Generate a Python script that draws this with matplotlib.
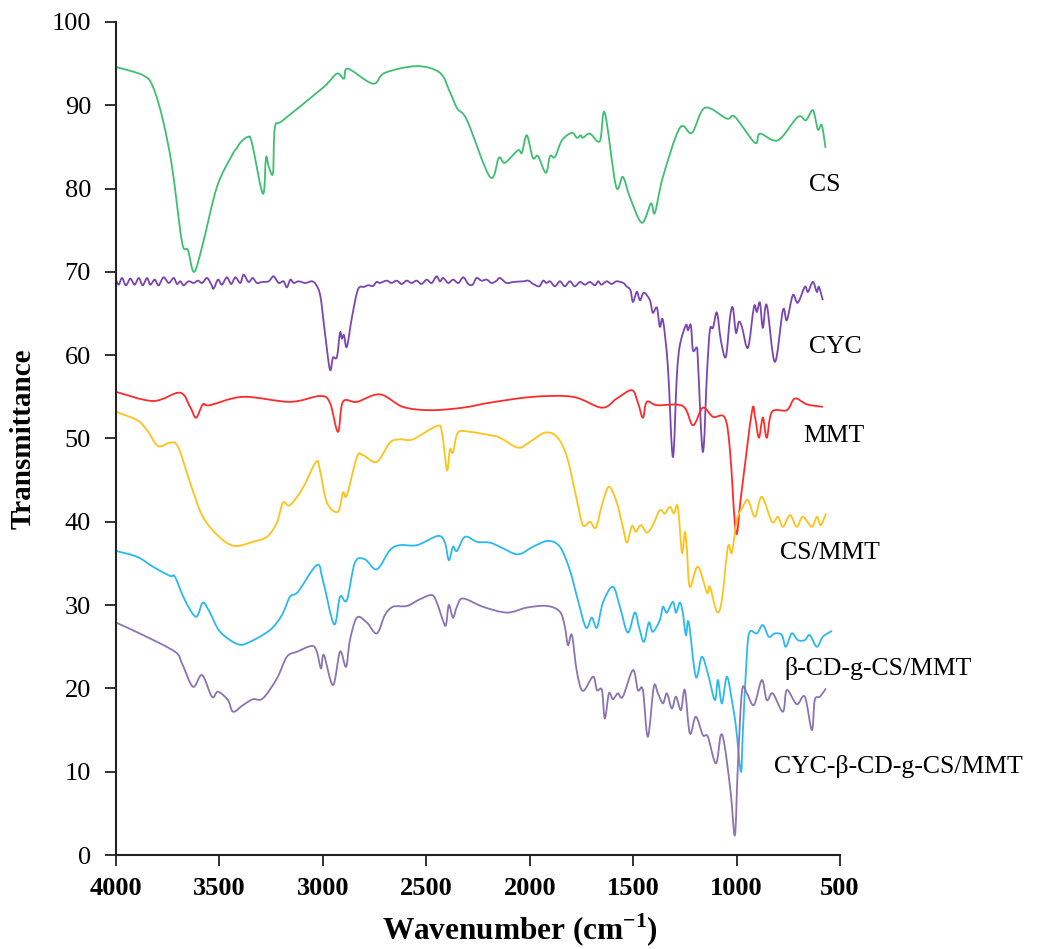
import numpy as np
import matplotlib
matplotlib.use("Agg")
import matplotlib.pyplot as plt
from matplotlib.path import Path
from matplotlib.patches import PathPatch

plt.rcParams['font.family'] = ['Liberation Serif', 'DejaVu Serif']
plt.rcParams['mathtext.fontset'] = 'custom'
plt.rcParams['mathtext.rm'] = 'Liberation Serif'
plt.rcParams['mathtext.bf'] = 'Liberation Serif:bold'

# ---- 数据 ----
cs_wn = [4000, 3869, 3821, 3773, 3729, 3681, 3652, 3623, 3584, 3512, 3439, 3415, 3396, 3362, 3343,
         3290, 3275, 3261, 3241, 3232, 3193, 3000, 2932, 2898, 2879, 2758, 2700, 2545, 2434, 2386,
         2350, 2303, 2192, 2149, 2120, 2057, 2038, 2014, 1985, 1960, 1922, 1902, 1878, 1844, 1796,
         1772, 1753, 1743, 1709, 1661, 1637, 1583, 1550, 1516, 1458, 1414, 1395, 1356, 1274, 1216,
         1153, 1047, 1008, 911, 887, 800, 704, 665, 631, 607, 588, 570]
cs_t = [94.6, 93.6, 92.2, 88.2, 82.6, 73.6, 72.6, 70.0, 73.0, 80.2, 84.0, 84.9, 85.6, 86.2, 85.5,
        79.4, 83.7, 82.6, 81.9, 87.3, 88.2, 92.1, 93.8, 93.2, 94.4, 92.6, 93.9, 94.7, 93.9, 91.6,
        89.6, 88.2, 81.4, 83.7, 83.1, 84.6, 84.3, 86.4, 83.7, 83.9, 81.9, 83.9, 83.8, 85.8, 86.7,
        86.1, 86.4, 86.1, 86.6, 85.7, 89.1, 80.3, 81.4, 79.0, 75.9, 78.2, 77.1, 81.4, 87.3, 86.7,
        89.7, 88.4, 88.6, 85.5, 86.6, 85.8, 88.6, 88.2, 89.4, 87.1, 87.6, 84.9]

cyc_wn = [4000, 3987, 3971, 3952, 3931, 3910, 3890, 3871, 3850, 3834, 3813, 3794, 3770, 3745, 3721,
          3705, 3689, 3673, 3649, 3625, 3604, 3584, 3560, 3539, 3528, 3507, 3488, 3464, 3443, 3423,
          3399, 3383, 3359, 3339, 3319, 3294, 3262, 3238, 3214, 3190, 3174, 3157, 3141, 3117, 3085,
          3053, 3033, 3012, 2990, 2966, 2951, 2932, 2917, 2908, 2898, 2884, 2859, 2830, 2800, 2780,
          2758, 2740, 2724, 2692, 2668, 2643, 2619, 2595, 2571, 2547, 2523, 2498, 2474, 2450, 2434,
          2418, 2394, 2370, 2345, 2321, 2297, 2276, 2257, 2233, 2208, 2184, 2160, 2144, 2112, 2080,
          2031, 2007, 1983, 1954, 1935, 1919, 1902, 1878, 1854, 1830, 1806, 1782, 1757, 1733, 1709,
          1685, 1669, 1653, 1628, 1604, 1580, 1548, 1532, 1513, 1501, 1482, 1467, 1448, 1419, 1405,
          1385, 1371, 1356, 1332, 1308, 1289, 1274, 1245, 1235, 1221, 1211, 1192, 1187, 1163, 1143,
          1129, 1114, 1095, 1076, 1052, 1032, 1018, 1003, 989, 974, 945, 916, 902, 887, 873,
          854, 815, 776, 757, 728, 704, 670, 655, 631, 612, 602, 583]
cyc_t = [69.07, 68.47, 69.27, 68.39, 69.19, 68.47, 69.27, 68.39, 69.27, 68.47, 69.07, 68.39, 69.35, 68.67, 69.27,
         68.55, 68.87, 68.39, 68.87, 68.67, 68.95, 68.67, 69.27, 68.47, 67.99, 69.07, 68.47, 69.35, 68.55, 69.35,
         68.67, 69.66, 68.79, 69.27, 68.67, 68.79, 68.87, 69.47, 68.67, 68.87, 68.15, 69.07, 68.67, 68.87, 68.67,
         68.87, 68.47, 67.07, 62.7, 58.3, 59.7, 59.8, 62.7, 62.0, 62.4, 61.0, 64.6, 67.9, 68.2, 68.4,
         68.3, 68.8, 68.67, 68.95, 68.67, 68.95, 68.55, 68.95, 68.67, 68.95, 68.55, 69.07, 68.67, 69.47, 68.87,
         69.27, 68.67, 69.07, 68.67, 69.35, 68.55, 68.47, 69.27, 68.95, 69.07, 68.67, 68.95, 69.27, 68.67, 68.79,
         68.87, 68.95, 68.55, 68.27, 68.95, 68.67, 68.87, 68.27, 68.87, 68.27, 68.87, 68.27, 68.79, 68.47, 68.79,
         68.39, 68.87, 68.47, 68.87, 68.55, 68.87, 68.67, 68.27, 67.8, 66.4, 67.6, 66.6, 67.5, 66.6, 65.1,
         65.7, 63.4, 64.2, 58.6, 47.8, 57.4, 61.2, 63.6, 63.0, 63.6, 60.6, 60.9, 59.4, 48.4, 57.9,
         63.0, 63.3, 65.1, 61.8, 59.8, 64.5, 65.7, 62.7, 64.0, 63.4, 60.9, 65.8, 65.2, 66.3, 63.3,
         66.0, 59.2, 65.4, 64.2, 67.2, 66.3, 68.2, 67.6, 68.8, 67.6, 68.2, 66.6]

mmt_wn = [4000, 3821, 3691, 3642, 3613, 3580, 3546, 3386, 3159, 3014, 2966, 2927, 2903, 2835, 2724,
          2613, 2482, 2323, 2192, 1985, 1791, 1651, 1579, 1506, 1477, 1453, 1434, 1385, 1260, 1211,
          1163, 1114, 1057, 1032, 1003, 979, 926, 911, 892, 873, 854, 829, 757, 718, 660, 583]
mmt_t = [55.6, 54.5, 55.5, 53.8, 52.5, 54.1, 54.0, 55.0, 54.4, 55.1, 54.3, 50.8, 54.4, 54.4, 55.3,
         53.8, 53.4, 53.7, 54.3, 55.0, 55.0, 53.7, 54.8, 55.8, 54.3, 52.5, 54.4, 54.0, 53.9, 51.6,
         53.7, 52.6, 52.5, 48.6, 38.7, 43.0, 53.2, 52.6, 50.1, 52.5, 50.1, 53.2, 53.4, 54.8, 54.1, 53.8]

csmmt_wn = [4000, 3898, 3850, 3797, 3739, 3700, 3642, 3580, 3497, 3425, 3338, 3270, 3222, 3193, 3159,
            3096, 3033, 3014, 2980, 2927, 2903, 2884, 2835, 2806, 2739, 2676, 2627, 2565, 2449, 2424,
            2400, 2386, 2371, 2347, 2289, 2192, 2144, 2057, 1999, 1927, 1869, 1820, 1772, 1743, 1709,
            1680, 1651, 1617, 1579, 1550, 1530, 1506, 1487, 1462, 1434, 1405, 1371, 1347, 1322, 1303,
            1284, 1264, 1250, 1240, 1226, 1187, 1143, 1129, 1095, 1071, 1042, 1023, 999, 970, 945,
            911, 878, 829, 800, 776, 742, 709, 680, 636, 612, 593, 568]
csmmt_t = [53.2, 52.2, 51.0, 49.1, 49.5, 49.0, 44.7, 40.6, 38.1, 37.1, 37.6, 38.2, 39.9, 42.3, 42.0,
           44.1, 47.2, 46.2, 42.3, 41.2, 43.5, 43.2, 47.8, 48.0, 47.2, 49.5, 49.9, 49.9, 51.5, 50.7,
           46.2, 48.7, 48.3, 50.7, 50.8, 50.4, 50.1, 48.9, 49.6, 50.7, 50.2, 47.8, 42.6, 39.6, 40.0,
           39.3, 42.0, 44.2, 42.3, 39.4, 37.5, 39.5, 38.8, 39.6, 38.7, 39.6, 41.4, 41.0, 41.8, 41.0,
           41.8, 36.3, 38.8, 36.6, 32.2, 34.6, 31.5, 32.2, 29.2, 30.6, 37.0, 36.3, 40.2, 41.8, 42.6,
           40.6, 43.0, 40.0, 40.6, 39.4, 40.8, 39.4, 40.6, 39.4, 40.6, 39.6, 41.0]

bcd_wn = [4000, 3898, 3821, 3739, 3715, 3667, 3613, 3580, 3546, 3497, 3410, 3352, 3256, 3198, 3159,
          3120, 3029, 3000, 2946, 2917, 2884, 2845, 2797, 2739, 2676, 2627, 2545, 2444, 2410, 2391,
          2371, 2352, 2313, 2255, 2192, 2144, 2057, 1985, 1912, 1854, 1806, 1767, 1728, 1700, 1675,
          1646, 1598, 1564, 1526, 1492, 1472, 1448, 1424, 1405, 1371, 1356, 1337, 1308, 1293, 1274,
          1260, 1245, 1231, 1197, 1168, 1139, 1105, 1090, 1071, 1047, 1023, 1003, 979, 970, 950,
          936, 902, 873, 844, 815, 781, 762, 733, 704, 670, 646, 612, 583, 539]
bcd_t = [36.5, 35.8, 34.6, 33.5, 33.4, 30.6, 28.6, 30.3, 29.1, 26.8, 25.3, 25.6, 27.0, 28.8, 31.0,
         31.6, 34.8, 33.0, 27.7, 31.0, 30.6, 35.1, 35.5, 34.3, 36.6, 37.2, 37.2, 38.3, 37.5, 35.4,
         37.0, 36.5, 38.2, 37.6, 37.5, 37.0, 36.1, 37.0, 37.7, 37.0, 34.2, 30.6, 27.3, 28.5, 27.3,
         30.3, 32.2, 29.8, 26.7, 29.1, 27.4, 25.6, 27.9, 26.8, 28.2, 29.8, 29.1, 30.4, 29.1, 30.3,
         29.1, 26.4, 27.9, 21.4, 23.8, 21.8, 18.6, 21.0, 18.2, 21.4, 18.6, 15.4, 10.0, 14.6, 24.2,
         26.8, 26.6, 27.6, 26.2, 26.6, 26.4, 25.0, 26.6, 25.8, 25.8, 26.4, 25.0, 26.2, 26.9]

cycb_wn = [4000, 3869, 3715, 3681, 3628, 3584, 3536, 3507, 3459, 3434, 3386, 3338, 3290, 3222, 3174,
           3125, 3053, 3029, 3009, 2995, 2951, 2917, 2888, 2869, 2835, 2787, 2739, 2700, 2661, 2593,
           2531, 2473, 2449, 2420, 2405, 2391, 2371, 2352, 2323, 2226, 2110, 2014, 1917, 1854, 1830,
           1815, 1796, 1772, 1743, 1694, 1675, 1651, 1637, 1617, 1598, 1574, 1550, 1501, 1477, 1453,
           1429, 1400, 1380, 1356, 1337, 1313, 1293, 1269, 1250, 1226, 1197, 1163, 1139, 1100, 1076,
           1057, 1028, 1008, 994, 974, 950, 916, 878, 854, 825, 776, 757, 709, 670, 636,
           622, 597, 568]
cycb_t = [27.9, 26.4, 24.4, 23.0, 20.2, 21.6, 19.0, 19.6, 18.6, 17.2, 18.0, 18.7, 18.8, 21.2, 23.8,
          24.4, 25.1, 24.4, 22.4, 24.0, 20.4, 24.4, 22.6, 25.8, 28.5, 27.9, 26.6, 28.8, 29.8, 29.9,
          30.7, 31.2, 30.3, 28.2, 27.6, 30.0, 28.5, 29.8, 30.8, 29.8, 29.1, 29.7, 29.9, 29.2, 27.4,
          25.2, 26.4, 22.0, 19.7, 21.4, 19.8, 19.8, 16.4, 19.4, 18.7, 19.4, 19.0, 22.2, 19.8, 19.8,
          14.2, 20.2, 19.4, 18.2, 19.4, 17.6, 19.0, 17.4, 19.8, 14.6, 16.6, 14.4, 14.2, 11.0, 14.4,
          13.0, 7.4, 2.4, 10.6, 19.6, 19.4, 18.0, 21.0, 18.6, 19.4, 17.2, 19.8, 18.1, 19.0, 15.0,
          18.6, 19.0, 20.0]

names = ["CS", "CYC", "MMT", "CS/MMT", "β-CD-g-CS/MMT", "CYC-β-CD-g-CS/MMT"]
colors = ["#3dbf72", "#7a45b0", "#ff2a2a", "#ffc21a", "#2ab8f2", "#8a74b4"]
label_pos = [(648, 80.4), (648, 61.0), (677, 50.3), (788, 36.3), (769, 22.4), (817, 10.6)]

series = [(cs_wn, cs_t), (cyc_wn, cyc_t), (mmt_wn, mmt_t),
          (csmmt_wn, csmmt_t), (bcd_wn, bcd_t), (cycb_wn, cycb_t)]


def smooth_path(x, y):
    """用 Catmull-Rom 曲线把数据点平滑连接（曲线经过每个数据点）"""
    p = np.column_stack([x, y]).astype(float)
    p_ext = np.vstack([p[0], p, p[-1]])
    verts = [p[0]]
    codes = [Path.MOVETO]
    for i in range(1, len(p_ext) - 2):
        p0, p1, p2, p3 = p_ext[i - 1], p_ext[i], p_ext[i + 1], p_ext[i + 2]
        c1 = p1 + (p2 - p0) / 6.0
        c2 = p2 - (p3 - p1) / 6.0
        verts += [c1, c2, p2]
        codes += [Path.CURVE4] * 3
    return Path(verts, codes)


fig = plt.figure(figsize=(10.61, 9.49), dpi=100)
ax = fig.add_axes([116 / 1061, 1 - 855 / 949, (840 - 116) / 1061, (855 - 22) / 949])

for (wn, t), c, name, pos in zip(series, colors, names, label_pos):
    assert len(wn) == len(t), name
    ax.add_patch(PathPatch(smooth_path(wn, t), facecolor='none', edgecolor=c,
                           linewidth=1.3, transform=ax.transData))
    ax.text(pos[0], pos[1], name, fontsize=18.5, va='center', ha='left')

ax.set_xlim(4000, 500)
ax.set_ylim(0, 100)
ax.set_xticks(np.arange(4000, 499, -500))
ax.set_yticks(np.arange(0, 101, 10))
for s in ['top', 'right']:
    ax.spines[s].set_visible(False)
for s in ['left', 'bottom']:
    ax.spines[s].set_linewidth(1.5)
    ax.spines[s].set_color('#222222')
ax.tick_params(axis='both', direction='out', length=8, width=1.3, color='#222222')
ax.tick_params(axis='y', labelsize=19, pad=10)
ax.tick_params(axis='x', labelsize=19, pad=8)
for lab in ax.get_xticklabels():
    lab.set_fontweight('bold')

fig.text(23 / 1061, 1 - 439 / 949, "Transmittance", rotation=90, fontsize=21,
         fontweight='bold', ha='center', va='center')
fig.text(520 / 1061, 1 - 930 / 949, r"Wavenumber (cm$^{\mathbf{-1}}$)", fontsize=22.5,
         fontweight='bold', ha='center', va='center')

fig.savefig("out.png", dpi=100)
